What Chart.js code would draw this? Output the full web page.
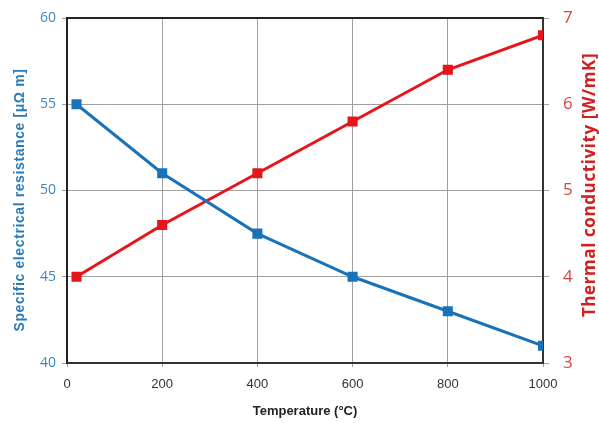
<!DOCTYPE html>
<html><head><meta charset="utf-8">
<script src="https://cdn.jsdelivr.net/npm/chart.js@4"></script>
<style>html,body{margin:0;padding:0;background:#fff}#w{width:599px;height:423px}</style>
</head><body><div id="w"><canvas id="c" width="599" height="423"></canvas></div>
<script>
const temperatures = [20, 200, 400, 600, 800, 1000];
const resistance = [55, 51, 47.5, 45, 43, 41];
const conductivity = [4, 4.6, 5.2, 5.8, 6.4, 6.8];
const xTicks = [0, 200, 400, 600, 800, 1000];
const leftTitle = 'Specific electrical resistance [μΩ m]';
const rightTitle = 'Thermal conductivity [W/mK]';
const blue = '#1a72b8', red = '#e8141c';
const toXY = (ys) => temperatures.map((t, i) => ({x: t, y: ys[i]}));
new Chart(document.getElementById('c'), {
  type: 'line',
  data: { datasets: [
    { label: 'Specific electrical resistance', data: toXY(resistance), yAxisID: 'y', borderColor: blue, backgroundColor: blue, borderWidth: 3, pointStyle: 'rect', pointRadius: 5, pointHoverRadius: 5, tension: 0 },
    { label: 'Thermal conductivity', data: toXY(conductivity), yAxisID: 'y1', borderColor: red, backgroundColor: red, borderWidth: 3, pointStyle: 'rect', pointRadius: 5, pointHoverRadius: 5, tension: 0 }
  ]},
  options: {
    responsive: false, animation: false,
    layout: { padding: { top: 18, right: 0, left: 0, bottom: 0 } },
    plugins: { legend: { display: false }, tooltip: { enabled: false } },
    scales: {
      x: { type: 'linear', min: 0, max: 1000, afterBuildTicks: (s) => { s.ticks = xTicks.map(v => ({value: v})); },
        afterFit: (s) => { s.height = 60; s.paddingLeft = 0; s.paddingRight = 0; },
        grid: { color: '#a0a0a0', lineWidth: 1, tickLength: 4 }, border: { color: '#333', width: 2 },
        ticks: { color: '#333', font: { family: 'Liberation Sans', size: 13 }, padding: 10, callback: (v) => String(v) },
        title: { display: true, text: 'Temperature (°C)', color: '#222', font: { family: 'Liberation Sans', size: 13, weight: 'bold' }, padding: { top: 6 } } },
      y: { position: 'left', min: 40, max: 60, afterFit: (s) => { s.width = 67; s.paddingTop = 0; s.paddingBottom = 0; },
        ticks: { stepSize: 5, color: '#3d86c0', font: { family: 'Open Sans', size: 14 }, padding: 6 },
        grid: { color: '#a0a0a0', lineWidth: 1, tickLength: 5 }, border: { color: '#222', width: 2 } },
      y1: { position: 'right', min: 3, max: 7, afterFit: (s) => { s.width = 56; s.paddingTop = 0; s.paddingBottom = 0; },
        ticks: { stepSize: 1, color: '#d9433f', font: { family: 'Open Sans', size: 17 }, padding: 14 },
        grid: { drawOnChartArea: false, color: '#a0a0a0', tickLength: 6 }, border: { color: '#333', width: 2 } }
    }
  },
  plugins: [{ id: 'extras', afterDraw(c) {
    const a = c.chartArea, g = c.ctx; g.save();
    g.strokeStyle = '#222'; g.lineWidth = 2; g.beginPath(); g.moveTo(a.left, a.top); g.lineTo(a.right, a.top); g.stroke();
    g.textAlign = 'center'; g.textBaseline = 'middle';
    g.save(); g.translate(20, 200); g.rotate(-Math.PI / 2);
    g.letterSpacing = '0.6px';
    g.fillStyle = '#2a7ab8'; g.font = 'bold 14px "Liberation Sans"'; g.fillText(leftTitle, 0, 0); g.restore();
    g.save(); g.translate(590, 185); g.rotate(-Math.PI / 2);
    g.letterSpacing = '0.6px';
    g.fillStyle = '#d0201f'; g.font = 'bold 17px "Open Sans"'; g.fillText(rightTitle, 0, 0); g.restore();
    g.restore(); } }]
});
</script></body></html>
